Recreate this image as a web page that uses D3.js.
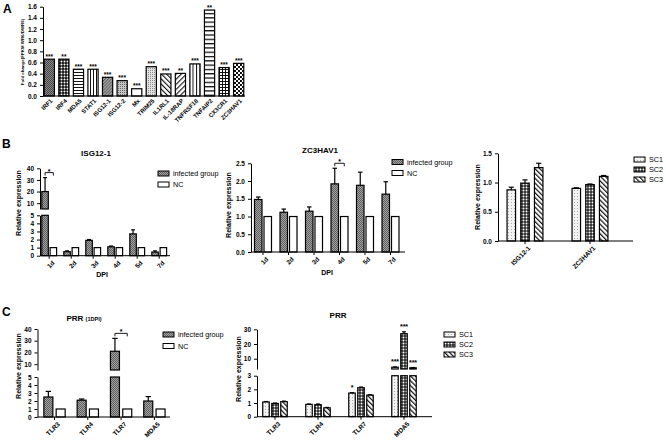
<!DOCTYPE html>
<html>
<head>
<meta charset="utf-8">
<script src="https://cdn.jsdelivr.net/npm/d3@7"></script>
<style>
  body { margin: 0; background: #fff; }
  text { font-family: "Liberation Sans", Arial, sans-serif; }
</style>
</head>
<body>
<svg id="fig" width="666" height="441"></svg>
<script>
// ---- data ----
var genesA = ["IRF1", "IRF4", "MDA5", "STAT1", "ISG12-1", "ISG12-2", "Mx", "TRIM25",
  "IL1RL1", "IL-18RAP", "TNFRSF18", "TNFAIP2", "CX3CR1", "ZC3HAV1"];
var foldA = [0.66, 0.66, 0.48, 0.48, 0.335, 0.275, 0.13, 0.525, 0.395, 0.405, 0.575, 1.54, 0.51, 0.585];
var sigA = ["***", "**", "***", "***", "***", "***", "***", "***", "***", "**", "***", "**", "***", "***"];
var ticksA = [0, 0.2, 0.4, 0.6, 0.8, 1.0, 1.2, 1.4, 1.6];

var dpi = ["1d", "2d", "3d", "4d", "5d", "7d"];
var isgInf = [20, 0.5, 1.9, 1.1, 2.7, 0.45];
var isgInfErr = [12, 0.1, 0.1, 0.1, 0.5, 0.15];
var isgNC = [1, 1, 1, 1, 1, 1];
var isgSig = ["*", "", "", "", "", ""];

var zcInf = [1.48, 1.12, 1.15, 1.92, 1.88, 1.63];
var zcInfErr = [0.07, 0.09, 0.12, 0.44, 0.37, 0.35];
var zcNC = [1, 1, 1, 1, 1, 1];
var zcSig = ["", "", "", "*", "", ""];

var scGenes = ["ISG12-1", "ZC3HAV1"];
var sc1 = [0.875, 0.9], sc1Err = [0.045, 0.01];
var sc2 = [0.99, 0.965], sc2Err = [0.055, 0.01];
var sc3 = [1.255, 1.105], sc3Err = [0.075, 0.015];

var prr = ["TLR3", "TLR4", "TLR7", "MDA5"];
var prrInf = [2.5, 2.1, 21, 2.0];
var prrInfErr = [0.7, 0.15, 11, 0.55];
var prrNC = [1, 1, 1, 1];
var prrSig = ["", "", "*", ""];

var prrSC1 = [1.08, 0.9, 1.73, 4.2], prrSC1Err = [0.03, 0.03, 0.03, 0.2];
var prrSC2 = [0.97, 0.88, 2.12, 27], prrSC2Err = [0.03, 0.05, 0.05, 1.3];
var prrSC3 = [1.1, 0.65, 1.58, 3.8], prrSC3Err = [0.04, 0.03, 0.03, 0.2];
var prrSC1Sig = ["", "", "*", "***"], prrSC2Sig = ["", "", "", "***"], prrSC3Sig = ["", "", "", "***"];

var svg = d3.select("#fig");
var defs = svg.append("defs");

// ---- fill patterns ----
function pat(id, w, h, bg, rot) {
  var p = defs.append("pattern").attr("id", id)
    .attr("patternUnits", "userSpaceOnUse").attr("width", w).attr("height", h);
  if (rot) p.attr("patternTransform", "rotate(" + rot + ")");
  p.append("rect").attr("width", w).attr("height", h).attr("fill", bg);
  return p;
}
function px(p, x, y, w, h, c) {
  p.append("rect").attr("x", x).attr("y", y).attr("width", w).attr("height", h).attr("fill", c);
}
var p;
p = pat("pInf", 2, 2, "#a3a3a3"); px(p, 0, 0, 1, 1, "#5e5e5e"); px(p, 1, 1, 1, 1, "#5e5e5e");
p = pat("pSC1", 3, 3, "#f3f3f3"); px(p, 1, 1, 1, 1, "#a8a8a8");
p = pat("pSC2", 3, 3, "#2a2a2a"); p.append("circle").attr("cx", 1.5).attr("cy", 1.5).attr("r", 0.95).attr("fill", "#fff");
p = pat("pSC3", 3.4, 3.4, "#fff", -45); px(p, 0, 0, 1.2, 3.4, "#111");
p = pat("aDark", 2, 2, "#8a8a8a"); px(p, 0, 0, 1, 1, "#444"); px(p, 1, 1, 1, 1, "#444");
p = pat("aDots", 3, 3, "#111"); p.append("circle").attr("cx", 1.5).attr("cy", 1.5).attr("r", 1).attr("fill", "#fff");
p = pat("aH", 3, 3, "#fff"); px(p, 0, 0, 3, 1, "#111");
p = pat("aV", 3, 3, "#fff"); px(p, 0, 0, 1, 3, "#111");
p = pat("aDiagG", 2.2, 2.2, "#b0b0b0", 45); px(p, 0, 0, 1, 2.2, "#555");
p = pat("aDotG", 2, 2, "#c4c4c4"); px(p, 0, 0, 1, 1, "#6a6a6a");
p = pat("aDotL", 2, 2, "#e2e2e2"); px(p, 0, 0, 1, 1, "#8c8c8c");
p = pat("aBack", 3.6, 3.6, "#fff", -45); px(p, 0, 0, 1.1, 3.6, "#111");
p = pat("aFwd", 3.6, 3.6, "#fff", 45); px(p, 0, 0, 1.1, 3.6, "#111");
p = pat("aV2", 3.5, 3, "#fff"); px(p, 0, 0, 1, 3, "#111");
p = pat("aH2", 4, 4.3, "#fff"); px(p, 0, 0, 4, 1.3, "#111");
p = pat("aGrid", 3, 3, "#fff"); px(p, 0, 0, 3, 1, "#111"); px(p, 0, 0, 1, 3, "#111");
p = pat("aChk", 4, 4, "#fff"); px(p, 0, 0, 2, 2, "#111"); px(p, 2, 2, 2, 2, "#111");

var fillsA = ["url(#aDark)", "url(#aDots)", "url(#aH)", "url(#aV)", "url(#aDiagG)", "url(#aDotG)", "#fff",
  "url(#aDotL)", "url(#aBack)", "url(#aFwd)", "url(#aV2)", "url(#aH2)", "url(#aGrid)", "url(#aChk)"];

function styleAxis(g, fs) {
  g.selectAll("path, line").attr("stroke", "#000").attr("stroke-width", 1);
  g.selectAll("text").attr("font-size", fs).attr("font-weight", "bold").attr("fill", "#000");
}
function rotLabels(g) {
  g.selectAll("text").attr("transform", "rotate(-45)")
    .style("text-anchor", "end").attr("dx", "-0.2em").attr("dy", "0.55em");
}
function txt(x, y, s, fs, bold, anchor, rot) {
  var t = svg.append("text").attr("x", x).attr("y", y).attr("font-size", fs)
    .attr("font-weight", bold ? "bold" : "normal").attr("text-anchor", anchor || "middle").text(s);
  if (rot) t.attr("transform", "rotate(-90," + x + "," + y + ")");
  return t;
}

// ---- panel A ----
(function () {
  var g = svg.append("g");
  var x = d3.scaleBand().domain(genesA).range([43.5, 244.5]).paddingInner(0.3).paddingOuter(0.05);
  var y = d3.scaleLinear().domain([0, 1.6]).range([96, 6.7]);
  g.selectAll("rect.bar").data(genesA).enter().append("rect")
    .attr("x", function (d) { return x(d); }).attr("width", x.bandwidth())
    .attr("y", function (d, i) { return y(foldA[i]); })
    .attr("height", function (d, i) { return y(0) - y(foldA[i]); })
    .attr("fill", function (d, i) { return fillsA[i]; })
    .attr("stroke", "#000").attr("stroke-width", 1.2);
  g.selectAll("text.sig").data(genesA).enter().append("text")
    .attr("x", function (d) { return x(d) + x.bandwidth() / 2; })
    .attr("y", function (d, i) { return y(foldA[i]) - 0.5; })
    .attr("text-anchor", "middle").attr("font-size", 6.5).attr("font-weight", "bold")
    .text(function (d, i) { return sigA[i]; });
  var ya = g.append("g").attr("transform", "translate(43,0)")
    .call(d3.axisLeft(y).tickValues(ticksA).tickSize(3).tickSizeOuter(0).tickFormat(d3.format(".1f")));
  styleAxis(ya, 6.5);
  var xa = g.append("g").attr("transform", "translate(0,96)")
    .call(d3.axisBottom(x).tickSize(0).tickSizeOuter(0));
  styleAxis(xa, 6);
  xa.select(".domain").remove();
  rotLabels(xa);
  g.append("line").attr("x1", 43).attr("x2", 245).attr("y1", 96).attr("y2", 96).attr("stroke", "#000");
  txt(24, 52, "Fold change(FPKM WR6/DWR6)", 4.4, true, "middle", true);
})();

// ---- generic grouped panel with optional broken y axis ----
function panel(o) {
  var g = svg.append("g");
  var x0 = d3.scaleBand().domain(o.cats)
    .range([o.c0 - o.step / 2, o.c0 - o.step / 2 + o.step * o.cats.length]);
  var keys = o.series.map(function (s) { return s.key; });
  var n = keys.length, gw = n * o.bw + (n - 1) * o.gap;
  var x1 = d3.scaleBand().domain(keys).range([-gw / 2, gw / 2]).paddingInner(o.gap / (o.bw + o.gap));
  var yL = d3.scaleLinear().domain(o.lowDom).range(o.lowRange);
  var yU = o.upDom ? d3.scaleLinear().domain(o.upDom).range(o.upRange) : null;
  var brk = o.lowDom[1];
  function yv(v) { return (yU && v > brk) ? yU(v) : yL(v); }
  var recs = [];
  o.cats.forEach(function (c, i) {
    o.series.forEach(function (s) {
      recs.push({ c: c, k: s.key, v: s.vals[i], e: s.errs ? s.errs[i] : 0, f: s.fill, sig: s.sig ? s.sig[i] : "" });
    });
  });
  function bx(d) { return x0(d.c) + x0.bandwidth() / 2 + x1(d.k); }
  var bw = x1.bandwidth();
  // lower part of each bar
  g.selectAll("rect.lo").data(recs).enter().append("rect")
    .attr("x", bx).attr("width", bw)
    .attr("y", function (d) { return yL(Math.min(d.v, brk)); })
    .attr("height", function (d) { return yL(0) - yL(Math.min(d.v, brk)); })
    .attr("fill", function (d) { return d.f; }).attr("stroke", "#000").attr("stroke-width", 1.2);
  if (yU) {
    g.selectAll("rect.up").data(recs.filter(function (d) { return d.v > brk; })).enter().append("rect")
      .attr("x", bx).attr("width", bw)
      .attr("y", function (d) { return yU(d.v); })
      .attr("height", function (d) { return yU(brk) - yU(d.v); })
      .attr("fill", function (d) { return d.f; }).attr("stroke", "#000").attr("stroke-width", 1.2);
  }
  var eb = recs.filter(function (d) { return d.e > 0; });
  g.selectAll("line.err").data(eb).enter().append("line")
    .attr("x1", function (d) { return bx(d) + bw / 2; }).attr("x2", function (d) { return bx(d) + bw / 2; })
    .attr("y1", function (d) { return yv(d.v); }).attr("y2", function (d) { return yv(d.v + d.e); })
    .attr("stroke", "#000").attr("stroke-width", 1.2);
  g.selectAll("line.cap").data(eb).enter().append("line")
    .attr("x1", function (d) { return bx(d) + bw * 0.2; }).attr("x2", function (d) { return bx(d) + bw * 0.8; })
    .attr("y1", function (d) { return yv(d.v + d.e); }).attr("y2", function (d) { return yv(d.v + d.e); })
    .attr("stroke", "#000").attr("stroke-width", 1.2);
  // stars directly over bars
  g.selectAll("text.sig").data(recs.filter(function (d) { return d.sig && !o.bracket; })).enter().append("text")
    .attr("x", function (d) { return bx(d) + bw / 2; })
    .attr("y", function (d) { return yv(d.v + d.e) - 2.5; })
    .attr("text-anchor", "middle").attr("font-size", 7).attr("font-weight", "bold")
    .text(function (d) { return d.sig; });
  // brackets between infected and NC
  if (o.bracket) {
    o.cats.forEach(function (c, i) {
      var s = o.series[0];
      if (!s.sig[i]) return;
      var a = recs.filter(function (d) { return d.c === c; });
      var xa = bx(a[0]) + bw / 2, xb = bx(a[1]) + bw / 2;
      var yb = yv(s.vals[i] + s.errs[i]) - 5;
      g.append("path").attr("d", "M" + xa + "," + (yb + 3) + "V" + yb + "H" + xb + "V" + (yb + 3))
        .attr("fill", "none").attr("stroke", "#000").attr("stroke-width", 0.9);
      g.append("text").attr("x", (xa + xb) / 2).attr("y", yb + 1).attr("text-anchor", "middle")
        .attr("font-size", 7).attr("font-weight", "bold").text(s.sig[i]);
    });
  }
  // axes
  var a1 = g.append("g").attr("transform", "translate(" + o.ax + ",0)")
    .call(d3.axisLeft(yL).tickValues(o.ticksLow).tickSize(3).tickSizeOuter(0).tickFormat(o.fmt));
  styleAxis(a1, 6.5);
  if (yU) {
    var a2 = g.append("g").attr("transform", "translate(" + o.ax + ",0)")
      .call(d3.axisLeft(yU).tickValues(o.ticksUp).tickSize(3).tickSizeOuter(0).tickFormat(o.fmt));
    styleAxis(a2, 6.5);
  }
  var xa2 = g.append("g").attr("transform", "translate(0," + yL(0) + ")")
    .call(d3.axisBottom(x0).tickSize(3).tickSizeOuter(0));
  styleAxis(xa2, 6.5);
  xa2.select(".domain").remove();
  rotLabels(xa2);
  g.append("line").attr("x1", o.ax).attr("x2", o.axEnd).attr("y1", yL(0)).attr("y2", yL(0))
    .attr("stroke", "#000").attr("stroke-width", 1);
  // legend
  o.series.forEach(function (s, i) {
    var ly = o.leg[1] + i * o.legDy;
    g.append("rect").attr("x", o.leg[0]).attr("y", ly).attr("width", 11).attr("height", 5)
      .attr("fill", s.fill).attr("stroke", "#000").attr("stroke-width", 1);
    g.append("text").attr("x", o.leg[0] + 15).attr("y", ly + 5).attr("font-size", 7.2).text(s.key);
  });
  // labels
  txt(o.yl[0], o.yl[1], "Relative expression", 7, true, "middle", true);
  if (o.xl) txt(o.xl[0], o.xl[1], "DPI", 7, true);
}

var fmt0 = d3.format("d"), fmt1 = d3.format(".1f");

// ---- panel B ----
panel({
  cats: dpi, c0: 49.2, step: 22, bw: 6.5, gap: 1.8, ax: 40, axEnd: 170,
  series: [
    { key: "infected group", vals: isgInf, errs: isgInfErr, fill: "url(#pInf)", sig: isgSig },
    { key: "NC", vals: isgNC, fill: "#fff" }],
  lowDom: [0, 5], lowRange: [255.7, 215.3], upDom: [5, 40], upRange: [209, 168.3],
  ticksLow: [0, 1, 2, 3, 4, 5], ticksUp: [10, 20, 30, 40], fmt: fmt0, bracket: true,
  leg: [158, 171], legDy: 11, yl: [21, 203], xl: [102, 277]
});
panel({
  cats: dpi, c0: 263, step: 25.5, bw: 7.5, gap: 2, ax: 251, axEnd: 405,
  series: [
    { key: "infected group", vals: zcInf, errs: zcInfErr, fill: "url(#pInf)", sig: zcSig },
    { key: "NC", vals: zcNC, fill: "#fff" }],
  lowDom: [0, 2.5], lowRange: [252, 163.3],
  ticksLow: [0, 0.5, 1, 1.5, 2, 2.5], fmt: fmt1, bracket: true,
  leg: [392, 159.5], legDy: 11, yl: [231, 205], xl: [327, 275]
});
panel({
  cats: scGenes, c0: 525, step: 65, bw: 8.5, gap: 5.2, ax: 498, axEnd: 633,
  series: [
    { key: "SC1", vals: sc1, errs: sc1Err, fill: "url(#pSC1)" },
    { key: "SC2", vals: sc2, errs: sc2Err, fill: "url(#pSC2)" },
    { key: "SC3", vals: sc3, errs: sc3Err, fill: "url(#pSC3)" }],
  lowDom: [0, 1.5], lowRange: [241, 153.3],
  ticksLow: [0, 0.5, 1, 1.5], fmt: fmt1,
  leg: [634, 157], legDy: 10, yl: [480, 197]
});

// ---- panel C ----
panel({
  cats: prr, c0: 54.5, step: 33.3, bw: 9, gap: 3.3, ax: 37.5, axEnd: 170,
  series: [
    { key: "infected group", vals: prrInf, errs: prrInfErr, fill: "url(#pInf)", sig: prrSig },
    { key: "NC", vals: prrNC, fill: "#fff" }],
  lowDom: [0, 5], lowRange: [417, 377], upDom: [5, 40], upRange: [370, 329],
  ticksLow: [0, 1, 2, 3, 4, 5], ticksUp: [10, 20, 30, 40], fmt: fmt0, bracket: true,
  leg: [163, 332], legDy: 11.5, yl: [21, 366]
});
panel({
  cats: prr, c0: 275, step: 43, bw: 6.5, gap: 2.5, ax: 257, axEnd: 432,
  series: [
    { key: "SC1", vals: prrSC1, errs: prrSC1Err, fill: "url(#pSC1)", sig: prrSC1Sig },
    { key: "SC2", vals: prrSC2, errs: prrSC2Err, fill: "url(#pSC2)", sig: prrSC2Sig },
    { key: "SC3", vals: prrSC3, errs: prrSC3Err, fill: "url(#pSC3)", sig: prrSC3Sig }],
  lowDom: [0, 3], lowRange: [416.7, 375.7], upDom: [3, 30], upRange: [369, 329.3],
  ticksLow: [0, 1, 2, 3], ticksUp: [10, 20, 30], fmt: fmt0,
  leg: [444, 332], legDy: 10, yl: [241, 369]
});

// ---- titles and panel letters ----
txt(96, 156, "ISG12-1", 8, true);
txt(320, 153, "ZC3HAV1", 8, true);
var tp = txt(84, 321, "PRR ", 8, true);
tp.append("tspan").attr("font-size", 5.5).text("(1DPI)");
txt(338, 318, "PRR", 8, true);
txt(3, 13, "A", 12, true, "start");
txt(2, 148, "B", 12, true, "start");
txt(2, 316, "C", 12, true, "start");
</script>
</body>
</html>
